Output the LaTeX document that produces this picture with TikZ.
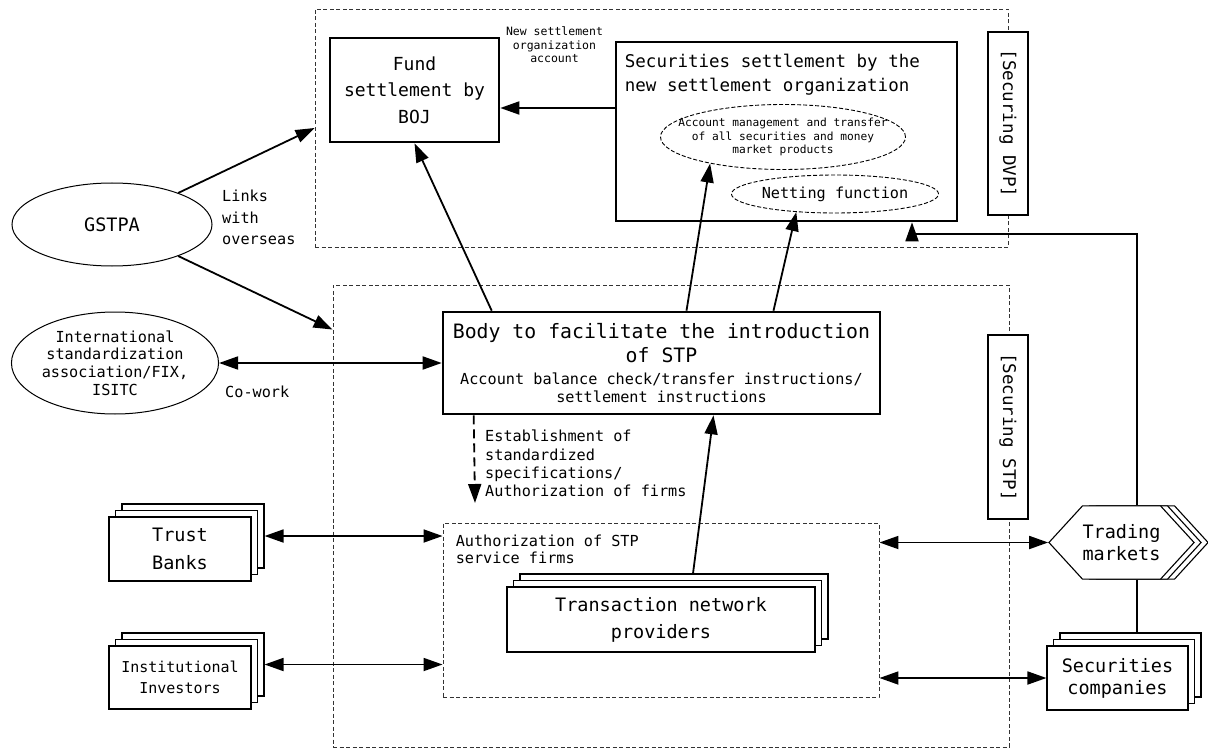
\documentclass[tikz,border=0pt]{standalone}
\usepackage{fontspec}
\setmainfont{DejaVu Sans Mono}
\usetikzlibrary{arrows.meta,shapes.geometric,shapes.symbols,shadows}
\newcommand{\setfs}[2]{\fontsize{#1}{#2}\selectfont}
\tikzset{
	zone/.style={draw=black!80,line width=0.9pt,dash pattern=on 4pt off 2.5pt},
	thickbox/.style={draw,line width=2.6pt,fill=white,inner sep=0pt,align=center},
	stackbox/.style={draw,line width=1.1pt,fill=white,inner sep=0pt,align=center,
		double copy shadow={shadow xshift=6.5pt,shadow yshift=6.5pt}},
	oval/.style={ellipse,draw,line width=1pt,inner sep=0pt,align=center},
	dashoval/.style={oval,dash pattern=on 4pt off 2pt,line width=0.9pt},
	vtag/.style={thickbox,rotate=-90,minimum height=40pt,font=\setfs{17.5}{20}},
	txt/.style={inner sep=0pt,align=left},
	link/.style={line width=1.8pt},
}
\begin{document}
\begin{tikzpicture}[x=1pt,y=-1pt,>={Triangle[length=19pt,width=13pt]}]
	\useasboundingbox (0,0) rectangle (1208,749);
	% dashed areas
	\node[zone,minimum width=693pt,minimum height=238pt] (dvpzone) at (661.5,128) {};
	\node[zone,minimum width=676pt,minimum height=462pt] (stpzone) at (671,516) {};
	\node[zone,minimum width=436pt,minimum height=174pt] (authz) at (661,610) {};
	\node[vtag,minimum width=183pt] (dvptag) at (1008,123.5) {[Securing DVP]};
	\node[vtag,minimum width=184pt] (stptag) at (1008,427) {[Securing STP]};
	% settlement side
	\node[thickbox,minimum width=169pt,minimum height=104pt,font=\setfs{18}{26.5}] (fund) at (414.5,90) {Fund\\settlement by\\BOJ};
	\node[thickbox,minimum width=341pt,minimum height=179pt] (secbox) at (786.5,131.5) {};
	\node[txt,anchor=north west,font=\setfs{17.5}{24}] (sectitle) at ([xshift=10pt,yshift=-13pt]secbox.north west) {Securities settlement by the\\new settlement organization};
	\node[dashoval,minimum width=245pt,minimum height=65pt,
		label={[font=\setfs{11.2}{13.5},align=center]center:Account management and transfer\\of all securities and money\\market products}] (acct) at (783,137) {};
	\node[dashoval,minimum width=193pt,minimum height=38pt,font=\setfs{15.2}{18}] (netting) at (835,194) {Netting function};
	\node[txt,align=center,anchor=north,font=\setfs{11.5}{13.5}] (newacct) at (554.5,27) {New settlement\\organization\\account};
	% left side
	\node[oval,minimum width=200pt,minimum height=83pt,font=\setfs{18.5}{22}] (gstpa) at (112,224.5) {GSTPA};
	\node[oval,minimum width=206pt,minimum height=102pt,font=\setfs{15.2}{17.8}] (intl) at (115,363) {International\\standardization\\association/FIX,\\ISITC};
	\node[txt,anchor=north west,font=\setfs{15.2}{21.5}] (links) at (222,190) {Links\\with\\overseas};
	\node[txt,anchor=north west,font=\setfs{15.2}{18}] (cowork) at (225,386) {Co-work};
	% STP side
	\node[thickbox,minimum width=437pt,minimum height=102pt] (body) at (661.5,363)
		{\parbox{430pt}{\centering\setfs{19.8}{24}Body to facilitate the introduction\\of STP\par
		\vspace{4pt}\setfs{15.2}{18}Account balance check/transfer instructions/\\settlement instructions\par}};
	\node[txt,anchor=north west,font=\setfs{15.2}{18.3}] (estab) at (485,430) {Establishment of\\standardized\\specifications/\\Authorization of firms};
	\coordinate (estend) at (475,503);
	\node[txt,anchor=north west,font=\setfs{15.2}{17}] (authzlbl) at ([xshift=13pt,yshift=-12pt]authz.north west) {Authorization of STP\\service firms};
	\node[stackbox,minimum width=308pt,minimum height=65pt,font=\setfs{18.5}{27}] (tnp) at (661,619.5) {Transaction network\\providers};
	\node[stackbox,minimum width=142pt,minimum height=64pt,font=\setfs{18.5}{28}] (trust) at (180,549) {Trust\\Banks};
	\node[stackbox,minimum width=142pt,minimum height=63pt,font=\setfs{15}{21}] (inst) at (180,677.5) {Institutional\\Investors};
	\node[signal,signal to=east and west,signal pointer angle=95,draw,line width=1.1pt,fill=white,
		inner xsep=0pt,inner ysep=18.5pt,align=center,font=\setfs{18.5}{22},
		double copy shadow={shadow xshift=7pt,shadow yshift=0pt}] (trade) at (1121.5,542.5) {Trading\\markets};
	\node[stackbox,minimum width=141pt,minimum height=64pt,font=\setfs{18.5}{22}] (seccomp) at (1117.5,678) {Securities\\companies};
	% connectors
	\coordinate (fundin) at ([yshift=-18pt]fund.east);
	\coordinate (stpin) at ([yshift=-45pt]stpzone.north west);
	\coordinate (trustout) at ([xshift=13pt,yshift=13pt]trust.east);
	\coordinate (instout) at ([xshift=13pt,yshift=13pt]inst.east);
	\coordinate (mkline) at ([xshift=15.5pt]trade.north);
	\coordinate (dvpin) at ([xshift=125.5pt]secbox.south);
	\coordinate (sctop) at ([yshift=13pt]seccomp.north);
	\draw[->,link] (secbox.west |- fundin) -- (fundin);
	\draw[->,link] (gstpa) -- (dvpzone.west);
	\draw[->,link] (gstpa) -- (stpin);
	\draw[<->,link] (intl) -- (body);
	\draw[->,link] ([xshift=50pt]body.north west) -- (fund.south);
	\draw[->,link] ([xshift=25pt]body.north) -- (acct.200);
	\draw[->,link] ([xshift=112pt]body.north) -- (netting.205);
	\draw[->,link,dash pattern=on 9pt off 5pt] ([xshift=32pt]body.south west) -- (estend);
	\draw[->,link] ([xshift=32pt,yshift=13pt]tnp.north) -- ([xshift=52pt]body.south);
	\draw[<->,link] (trustout) -- (trustout -| authz.west);
	\draw[<->,link] (instout) -- (instout -| authz.west);
	\draw[<->,link] (authz.east |- trade.west) -- (trade.west);
	\draw[<->,link] (authz.east |- seccomp.west) -- (seccomp.west);
	\draw[->,link] (mkline) |- ([yshift=-12pt]dvpin) -- (dvpin);
	\draw[link] (mkline |- trade.south) -- (mkline |- sctop);
\end{tikzpicture}
\end{document}
